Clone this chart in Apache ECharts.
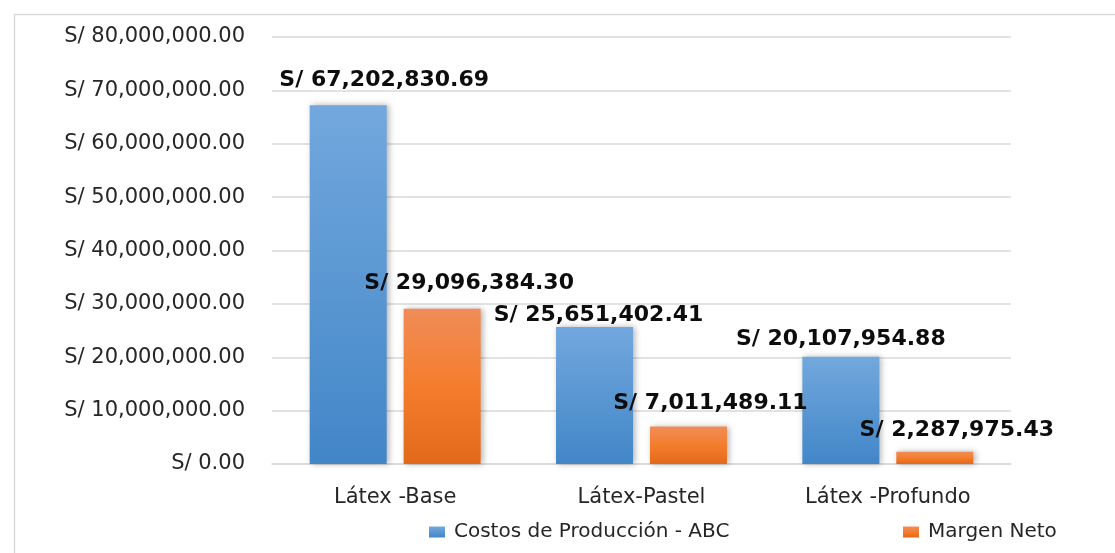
<!DOCTYPE html>
<html>
<head>
<meta charset="utf-8">
<script src="https://cdn.jsdelivr.net/npm/echarts@6/dist/echarts.min.js"></script>
<style>
  html, body { margin: 0; padding: 0; background: #fff; }
  #chart { width: 1115px; height: 553px; }
</style>
</head>
<body>
<div id="chart"></div>
<script>
// Product lines and their figures (soles)
const categories = ['Látex -Base', 'Látex-Pastel', 'Látex -Profundo'];
const costosABC = [67202830.69, 25651402.41, 20107954.88];
const margenNeto = [29096384.30, 7011489.11, 2287975.43];
const seriesNames = ['Costos de Producción - ABC', 'Margen Neto'];
const axisMax = 80000000;
const axisStep = 10000000;

const FONT = 'DejaVu Sans';

function soles(v) {
  return 'S/ ' + Number(v).toLocaleString('en-US', { minimumFractionDigits: 2, maximumFractionDigits: 2 });
}

// Hand-placed label nudges, one per bar
const costosLabelShift = [[36, -8], [4, 5], [0, 0]];
const margenLabelShift = [[27, -8], [22, -6], [22, -5]];

function withLabels(values, shifts) {
  return values.map((v, i) => ({ value: v, label: { offset: shifts[i] } }));
}

const blueFill = new echarts.graphic.LinearGradient(0, 0, 0, 1, [
  { offset: 0, color: '#72a8dd' },
  { offset: 1, color: '#4286c8' }
]);
const orangeFill = new echarts.graphic.LinearGradient(0, 0, 0, 1, [
  { offset: 0, color: '#f08d58' },
  { offset: 0.5, color: '#f47d2c' },
  { offset: 1, color: '#e2691a' }
]);

const labelStyle = {
  show: true,
  position: 'top',
  distance: 5,
  fontFamily: FONT,
  fontWeight: 'bold',
  fontSize: 22,
  lineHeight: 24,
  color: '#0d0d0d',
  formatter: p => soles(p.value)
};

const legendCommon = {
  top: 517,
  itemWidth: 16, itemHeight: 11, itemGap: 0,
  icon: 'rect',
  textStyle: { fontFamily: FONT, fontSize: 20, color: '#262626', padding: [0, 0, 0, 4] }
};

const chart = echarts.init(document.getElementById('chart'), null, { renderer: 'canvas' });
chart.setOption({
  backgroundColor: '#ffffff',
  animation: false,
  graphic: [{
    type: 'rect',
    left: 12, top: 12,
    shape: { width: 1102, height: 560 },
    style: { fill: 'none', stroke: '#d9d9d9', lineWidth: 1.5 },
    silent: true
  }],
  grid: { left: 272, right: 104, top: 37, bottom: 89, containLabel: false },
  legend: [
    Object.assign({ left: 424, data: [seriesNames[0]] }, legendCommon),
    Object.assign({ left: 898, data: [seriesNames[1]] }, legendCommon)
  ],
  xAxis: {
    type: 'category',
    data: categories,
    axisLine: { show: true, lineStyle: { color: '#d9d9d9', width: 1.5 } },
    axisTick: { show: false },
    axisLabel: { fontFamily: FONT, fontSize: 21, color: '#262626', margin: 23 }
  },
  yAxis: {
    type: 'value',
    min: 0, max: axisMax, interval: axisStep,
    axisLine: { show: false },
    axisTick: { show: false },
    splitLine: { lineStyle: { color: '#d9d9d9', width: 1.5 } },
    axisLabel: {
      fontFamily: FONT, fontSize: 21, color: '#262626', margin: 27,
      formatter: v => soles(v)
    }
  },
  series: [
    {
      name: seriesNames[0], type: 'bar',
      barWidth: 77, barGap: '22%',
      data: withLabels(costosABC, costosLabelShift),
      itemStyle: { color: blueFill, shadowBlur: 6, shadowColor: 'rgba(0,0,0,0.3)', shadowOffsetX: 2 },
      label: labelStyle
    },
    {
      name: seriesNames[1], type: 'bar',
      barWidth: 77, barGap: '22%',
      data: withLabels(margenNeto, margenLabelShift),
      itemStyle: { color: orangeFill, shadowBlur: 6, shadowColor: 'rgba(0,0,0,0.3)', shadowOffsetX: 2 },
      label: labelStyle
    }
  ]
});
</script>
</body>
</html>
